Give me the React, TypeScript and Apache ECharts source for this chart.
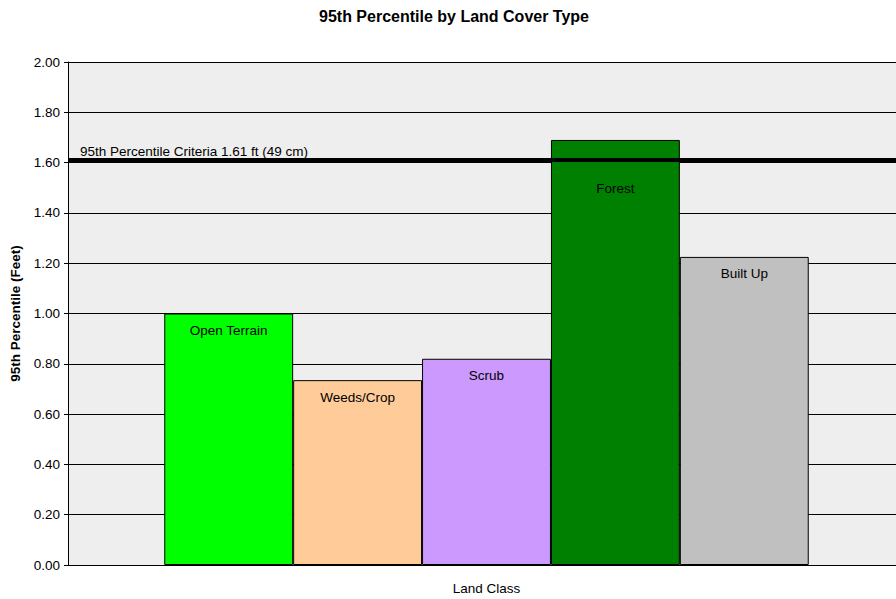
import React, { useEffect, useRef } from "react";
import * as echarts from "echarts";

const landClasses = ["Open Terrain", "Weeds/Crop", "Scrub", "Forest", "Built Up"];
const percentile95 = [1.0, 0.735, 0.82, 1.69, 1.225];
const barColors = ["#00ff00", "#ffcc99", "#cc99ff", "#008000", "#c0c0c0"];
const criteriaValue = 1.61;
const criteriaLabel = "95th Percentile Criteria 1.61 ft (49 cm)";

export default function App() {
  const ref = useRef<HTMLDivElement>(null);
  useEffect(() => {
    const chart = echarts.init(ref.current!, undefined, { renderer: "svg" });
    const font = "Liberation Sans, Arial, sans-serif";
    const series: any[] = landClasses.map((name, i) => ({
      type: "bar",
      name,
      data: [percentile95[i]],
      barGap: "0%",
      barCategoryGap: "23%",
      itemStyle: { color: barColors[i], borderColor: "#000", borderWidth: 1 },
      label: {
        show: true,
        position: "insideTop",
        distance: name === "Forest" ? 42 : 10,
        formatter: name,
        color: "#000",
        fontFamily: font,
        fontSize: 13.5,
      },
      z: 3,
    }));
    series[0].markLine = {
      silent: true,
      symbol: "none",
      z: 5,
      lineStyle: { color: "#000", width: 4, type: "solid" },
      label: {
        show: true,
        position: "insideStartTop",
        formatter: criteriaLabel,
        color: "#000",
        fontFamily: font,
        fontSize: 13.5,
        distance: [12, 2],
      },
      data: [{ yAxis: criteriaValue }],
    };
    chart.setOption({
      animation: false,
      backgroundColor: "#ffffff",
      title: {
        text: "95th Percentile by Land Cover Type",
        left: 314,
        top: 3,
        textStyle: { fontFamily: font, fontSize: 16, fontWeight: "bold", color: "#000" },
      },
      grid: {
        left: 68,
        right: -9,
        top: 62,
        bottom: 34,
        outerBoundsMode: "none",
        containLabel: false,
        show: true,
        backgroundColor: "#eeeeee",
        borderWidth: 0,
      },
      xAxis: {
        type: "category",
        data: ["Land Class"],
        name: "Land Class",
        nameLocation: "middle",
        nameGap: 16,
        nameTextStyle: { fontFamily: font, fontSize: 13.5, color: "#000" },
        axisLabel: { show: false },
        axisTick: { show: false },
        axisLine: { lineStyle: { color: "#000", width: 1 } },
      },
      yAxis: {
        type: "value",
        min: 0,
        max: 2,
        interval: 0.2,
        name: "95th Percentile (Feet)",
        nameLocation: "middle",
        nameGap: 45,
        nameTextStyle: { fontFamily: font, fontSize: 13.5, fontWeight: "bold", color: "#000" },
        axisLine: { show: true, lineStyle: { color: "#000", width: 1 } },
        axisTick: { show: true, length: 4, lineStyle: { color: "#000" } },
        axisLabel: {
          formatter: (v: number) => v.toFixed(2),
          fontFamily: font,
          fontSize: 13.5,
          color: "#000",
          margin: 8,
        },
        splitLine: { show: true, lineStyle: { color: "#000", width: 1 } },
      },
      series,
    });
    return () => chart.dispose();
  }, []);
  return (
    <div
      ref={ref}
      style={{ position: "absolute", left: 0, top: 0, width: 896, height: 599 }}
    />
  );
}
